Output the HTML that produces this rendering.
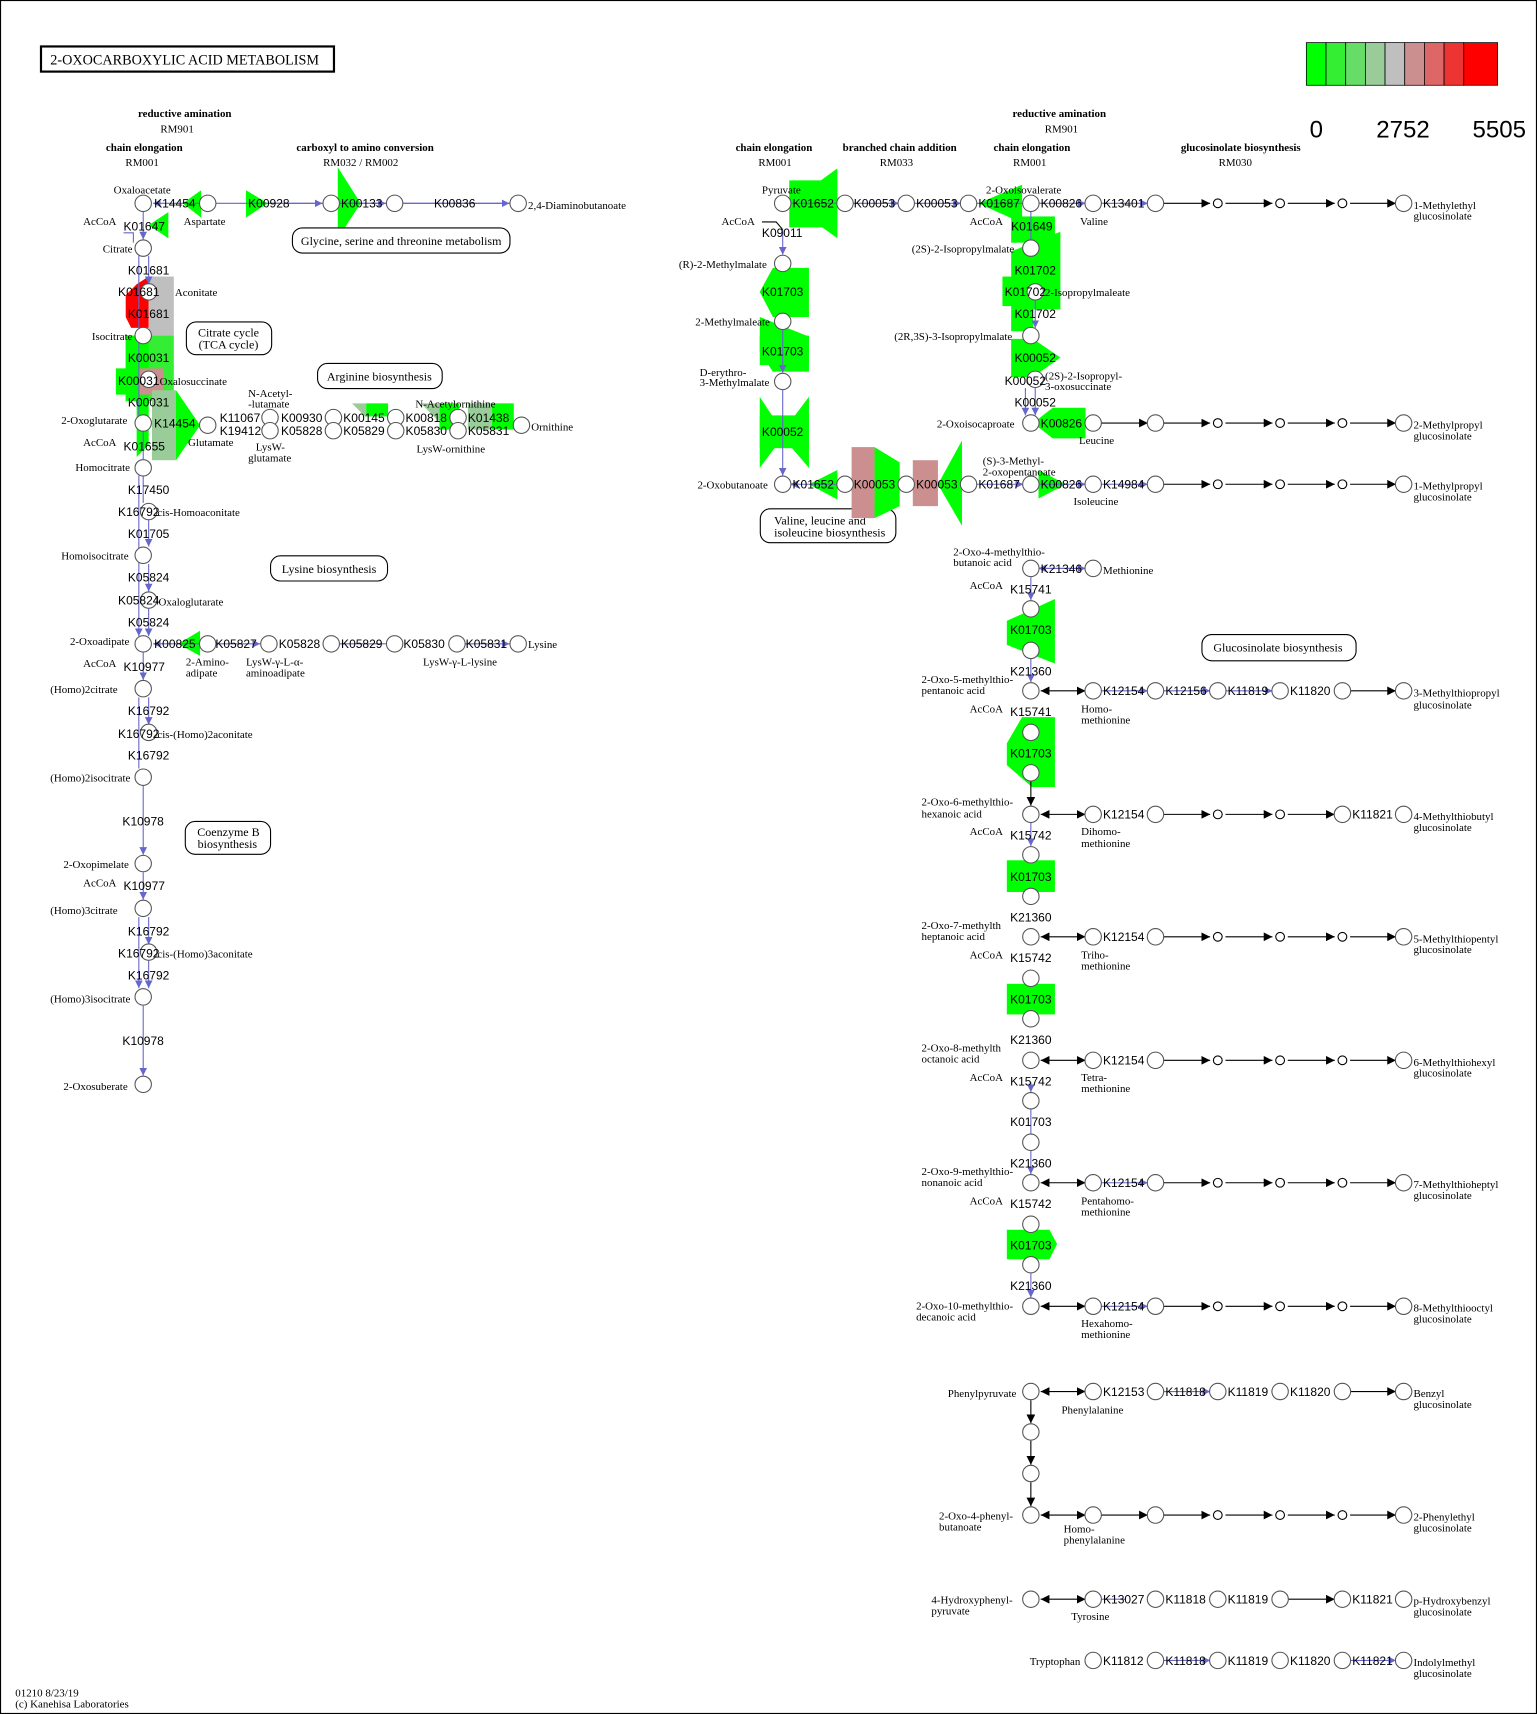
<!DOCTYPE html>
<html><head><meta charset="utf-8"><style>
html,body{margin:0;padding:0;background:#fff}
svg{display:block}
.c{fill:#fff;stroke:#555;stroke-width:1}
.sm{fill:#fff;stroke:#000;stroke-width:1}
.k{font-family:"Liberation Sans",sans-serif;font-size:11px;fill:#000}
.s{font-family:"Liberation Serif",serif;font-size:10px;fill:#000}
.b{font-family:"Liberation Serif",serif;font-size:10px;font-weight:bold;fill:#000}
.bl{stroke:#6666cc;stroke-width:1;fill:none}
.bk{stroke:#000;stroke-width:1;fill:none}
.g{fill:#00ff00}
.lg{fill:#99cc99}
.pk{fill:#cc8f8f}
.box{fill:#fff;stroke:#000;stroke-width:1}
</style></head><body>
<svg width="1537" height="1714" viewBox="0 0 1406 1568" preserveAspectRatio="none" xmlns="http://www.w3.org/2000/svg">
<defs>
<marker id="ab" viewBox="0 0 10 10" refX="10" refY="5" markerWidth="7" markerHeight="7" orient="auto"><path d="M0,0L10,5L0,10z" fill="#6666cc"/></marker>
<marker id="ak" viewBox="0 0 10 10" refX="10" refY="5" markerWidth="8" markerHeight="8" orient="auto"><path d="M0,0L10,5L0,10z" fill="#000"/></marker>
<marker id="aks" viewBox="0 0 10 10" refX="0" refY="5" markerWidth="8" markerHeight="8" orient="auto"><path d="M10,0L0,5L10,10z" fill="#000"/></marker>
</defs>
<rect x="0.5" y="0.5" width="1405" height="1567" fill="#fff" stroke="#000"/>
<rect x="37.5" y="42.5" width="268" height="23" fill="#fff" stroke="#000" stroke-width="2"/>
<text x="46" y="59" class="s" style="font-size:13px">2-OXOCARBOXYLIC ACID METABOLISM</text>
<g stroke="#000" stroke-width="0.7">
<rect x="1195" y="39" width="18" height="39" fill="#00ff00"/>
<rect x="1213" y="39" width="18" height="39" fill="#33ee33"/>
<rect x="1231" y="39" width="18" height="39" fill="#66dd66"/>
<rect x="1249" y="39" width="18" height="39" fill="#99cc99"/>
<rect x="1267" y="39" width="18" height="39" fill="#bfbfbf"/>
<rect x="1285" y="39" width="18" height="39" fill="#cc8f8f"/>
<rect x="1303" y="39" width="18" height="39" fill="#dd6666"/>
<rect x="1321" y="39" width="18" height="39" fill="#ee3333"/>
<rect x="1339" y="39" width="31" height="39" fill="#ff0000"/>
</g>
<text x="1198" y="126" class="k" style="font-size:22px">0</text>
<text x="1259" y="126" class="k" style="font-size:22px">2752</text>
<text x="1347" y="126" class="k" style="font-size:22px">5505</text>

<text x="169" y="107" class="b" text-anchor="middle">reductive amination</text>
<text x="162" y="121" class="s" text-anchor="middle">RM901</text>
<text x="132" y="138" class="b" text-anchor="middle">chain elongation</text>
<text x="130" y="152" class="s" text-anchor="middle">RM001</text>
<text x="334" y="138" class="b" text-anchor="middle">carboxyl to amino conversion</text>
<text x="330" y="152" class="s" text-anchor="middle">RM032 / RM002</text>
<text x="969" y="107" class="b" text-anchor="middle">reductive amination</text>
<text x="971" y="121" class="s" text-anchor="middle">RM901</text>
<text x="708" y="138" class="b" text-anchor="middle">chain elongation</text>
<text x="709" y="152" class="s" text-anchor="middle">RM001</text>
<text x="823" y="138" class="b" text-anchor="middle">branched chain addition</text>
<text x="820" y="152" class="s" text-anchor="middle">RM033</text>
<text x="944" y="138" class="b" text-anchor="middle">chain elongation</text>
<text x="942" y="152" class="s" text-anchor="middle">RM001</text>
<text x="1135" y="138" class="b" text-anchor="middle">glucosinolate biosynthesis</text>
<text x="1130" y="152" class="s" text-anchor="middle">RM030</text>

<polygon class="g" points="167,186 184,174 184,199"/>
<polygon class="g" points="136,206 154,194 154,218"/>
<polygon class="g" points="225,174 245,186 225,199"/>
<polygon class="g" points="309,153 330,186 309,218"/>
<polygon fill="#ff0000" points="136,253 136,300 120,300 115,290 115,270 125,260"/>
<rect x="136" y="253" width="23" height="54" fill="#bfbfbf"/>
<rect x="115" y="307" width="44" height="60" fill="#33ee33"/>
<rect x="115" y="307" width="21" height="60" class="g"/>
<rect x="106" y="337" width="44" height="24" class="g"/>
<rect x="127" y="337" width="23" height="24" class="pk"/>
<polygon class="g" points="125,367 136,367 136,407 125,418"/>
<rect x="139" y="357" width="22" height="64" class="lg"/>
<polygon class="g" points="161,357 183,389 161,421"/>
<polygon fill="#99cc99" points="322,369 335,369 335,382"/>
<rect x="335" y="369" width="20" height="12" class="g"/>
<polygon fill="#99cc99" points="385,369 402,369 402,386"/>
<rect x="402" y="369" width="18" height="24" class="g"/>
<rect x="428" y="369" width="22" height="24" class="lg"/>
<rect x="450" y="369" width="20" height="24" class="g"/>
<polygon class="g" points="163,589 183,577 183,600"/>

<g class="bl">
<line x1="466" y1="186" x2="197" y2="186"/>
<line x1="183" y1="186" x2="140" y2="186" marker-end="url(#ab)"/>
<line x1="245" y1="186" x2="295" y2="186" marker-end="url(#ab)"/>
<line x1="310" y1="186" x2="353" y2="186" marker-end="url(#ab)"/>
<line x1="368" y1="186" x2="466" y2="186" marker-end="url(#ab)"/>
<line x1="131" y1="193" x2="131" y2="219" marker-end="url(#ab)"/>
<line x1="127" y1="234" x2="127" y2="380"/>
<line x1="136" y1="234" x2="136" y2="260" marker-end="url(#ab)"/>
<line x1="131" y1="394" x2="131" y2="420"/>
<line x1="127" y1="435" x2="127" y2="582" marker-end="url(#ab)"/>
<line x1="136" y1="476" x2="136" y2="500" marker-end="url(#ab)"/>
<line x1="136" y1="516" x2="136" y2="541" marker-end="url(#ab)"/>
<line x1="136" y1="557" x2="136" y2="582" marker-end="url(#ab)"/>
<line x1="131" y1="435" x2="131" y2="460"/>
<line x1="131" y1="597" x2="131" y2="622" marker-end="url(#ab)"/>
<line x1="127" y1="638" x2="127" y2="703"/>
<line x1="136" y1="638" x2="136" y2="663" marker-end="url(#ab)"/>
<line x1="131" y1="719" x2="131" y2="782" marker-end="url(#ab)"/>
<line x1="131" y1="798" x2="131" y2="823" marker-end="url(#ab)"/>
<line x1="127" y1="839" x2="127" y2="904" marker-end="url(#ab)"/>
<line x1="136" y1="839" x2="136" y2="864" marker-end="url(#ab)"/>
<line x1="136" y1="879" x2="136" y2="904" marker-end="url(#ab)"/>
<line x1="131" y1="920" x2="131" y2="984" marker-end="url(#ab)"/>
<line x1="183" y1="589" x2="140" y2="589" marker-end="url(#ab)"/>
<line x1="197" y1="589" x2="238" y2="589" marker-end="url(#ab)"/>
<line x1="310" y1="589" x2="353" y2="589"/>
<line x1="425" y1="589" x2="466" y2="589" marker-end="url(#ab)"/>
</g>
<path d="M113,213 L122,213 L122,222" class="bl"/>

<g class="c">
<circle cx="131" cy="186" r="7.5"/><circle cx="190" cy="186" r="7.5"/><circle cx="303" cy="186" r="7.5"/><circle cx="361" cy="186" r="7.5"/><circle cx="474" cy="186" r="7.5"/>
<circle cx="131" cy="227" r="7.5"/><circle cx="136" cy="267" r="7.5"/><circle cx="131" cy="307" r="7.5"/><circle cx="136" cy="347" r="7.5"/>
<circle cx="131" cy="387" r="7.5"/><circle cx="190" cy="389" r="7.5"/><circle cx="131" cy="428" r="7.5"/><circle cx="136" cy="468" r="7.5"/>
<circle cx="131" cy="508" r="7.5"/><circle cx="136" cy="549" r="7.5"/><circle cx="131" cy="589" r="7.5"/><circle cx="131" cy="630" r="7.5"/>
<circle cx="136" cy="670" r="7.5"/><circle cx="131" cy="711" r="7.5"/><circle cx="131" cy="790" r="7.5"/><circle cx="131" cy="831" r="7.5"/>
<circle cx="136" cy="871" r="7.5"/><circle cx="131" cy="912" r="7.5"/><circle cx="131" cy="992" r="7.5"/>
<circle cx="190" cy="589" r="7.5"/><circle cx="246" cy="589" r="7.5"/><circle cx="303" cy="589" r="7.5"/><circle cx="361" cy="589" r="7.5"/><circle cx="418" cy="589" r="7.5"/><circle cx="474" cy="589" r="7.5"/>
<circle cx="247" cy="382" r="7.5"/><circle cx="247" cy="394" r="7.5"/><circle cx="305" cy="382" r="7.5"/><circle cx="305" cy="394" r="7.5"/>
<circle cx="362" cy="382" r="7.5"/><circle cx="362" cy="394" r="7.5"/><circle cx="419" cy="382" r="7.5"/><circle cx="419" cy="394" r="7.5"/><circle cx="477" cy="389" r="7.5"/>
</g>

<text x="104" y="177" class="s">Oxaloacetate</text>
<text x="141" y="190" class="k">K14454</text>
<text x="76" y="206" class="s">AcCoA</text>
<text x="113" y="211" class="k">K01647</text>
<text x="168" y="206" class="s">Aspartate</text>
<text x="227" y="190" class="k">K00928</text>
<text x="312" y="190" class="k">K00133</text>
<text x="397" y="190" class="k">K00836</text>
<text x="483" y="191" class="s">2,4-Diaminobutanoate</text>
<text x="94" y="231" class="s">Citrate</text>
<text x="117" y="251" class="k">K01681</text>
<text x="108" y="271" class="k">K01681</text>
<text x="160" y="271" class="s">Aconitate</text>
<text x="117" y="291" class="k">K01681</text>
<text x="84" y="311" class="s">Isocitrate</text>
<text x="117" y="331" class="k">K00031</text>
<text x="108" y="352" class="k">K00031</text>
<text x="146" y="352" class="s">Oxalosuccinate</text>
<text x="117" y="372" class="k">K00031</text>
<text x="56" y="388" class="s">2-Oxoglutarate</text>
<text x="141" y="391" class="k">K14454</text>
<text x="172" y="408" class="s">Glutamate</text>
<text x="76" y="408" class="s">AcCoA</text>
<text x="113" y="412" class="k">K01655</text>
<text x="69" y="431" class="s">Homocitrate</text>
<text x="117" y="452" class="k">K17450</text>
<text x="108" y="472" class="k">K16792</text>
<text x="144" y="472" class="s">cis-Homoaconitate</text>
<text x="117" y="492" class="k">K01705</text>
<text x="56" y="512" class="s">Homoisocitrate</text>
<text x="117" y="532" class="k">K05824</text>
<text x="108" y="553" class="k">K05824</text>
<text x="145" y="554" class="s">Oxaloglutarate</text>
<text x="117" y="573" class="k">K05824</text>
<text x="64" y="590" class="s">2-Oxoadipate</text>
<text x="141" y="593" class="k">K00825</text>
<text x="197" y="593" class="k">K05827</text>
<text x="255" y="593" class="k">K05828</text>
<text x="312" y="593" class="k">K05829</text>
<text x="369" y="593" class="k">K05830</text>
<text x="426" y="593" class="k">K05831</text>
<text x="483" y="593" class="s">Lysine</text>
<text x="170" y="609" class="s">2-Amino-</text>
<text x="170" y="619" class="s">adipate</text>
<text x="225" y="609" class="s">LysW-γ-L-α-</text>
<text x="225" y="619" class="s">aminoadipate</text>
<text x="387" y="609" class="s">LysW-γ-L-lysine</text>
<text x="76" y="610" class="s">AcCoA</text>
<text x="113" y="614" class="k">K10977</text>
<text x="46" y="634" class="s">(Homo)2citrate</text>
<text x="117" y="654" class="k">K16792</text>
<text x="108" y="675" class="k">K16792</text>
<text x="144" y="675" class="s">cis-(Homo)2aconitate</text>
<text x="117" y="695" class="k">K16792</text>
<text x="46" y="715" class="s">(Homo)2isocitrate</text>
<text x="112" y="755" class="k">K10978</text>
<text x="58" y="794" class="s">2-Oxopimelate</text>
<text x="76" y="811" class="s">AcCoA</text>
<text x="113" y="814" class="k">K10977</text>
<text x="46" y="836" class="s">(Homo)3citrate</text>
<text x="117" y="856" class="k">K16792</text>
<text x="108" y="876" class="k">K16792</text>
<text x="144" y="876" class="s">cis-(Homo)3aconitate</text>
<text x="117" y="896" class="k">K16792</text>
<text x="46" y="917" class="s">(Homo)3isocitrate</text>
<text x="112" y="956" class="k">K10978</text>
<text x="58" y="997" class="s">2-Oxosuberate</text>
<text x="227" y="363" class="s">N-Acetyl-</text>
<text x="227" y="373" class="s">-lutamate</text>
<text x="201" y="386" class="k">K11067</text>
<text x="201" y="398" class="k">K19412</text>
<text x="257" y="386" class="k">K00930</text>
<text x="257" y="398" class="k">K05828</text>
<text x="314" y="386" class="k">K00145</text>
<text x="314" y="398" class="k">K05829</text>
<text x="371" y="386" class="k">K00818</text>
<text x="371" y="398" class="k">K05830</text>
<text x="428" y="386" class="k">K01438</text>
<text x="428" y="398" class="k">K05831</text>
<text x="380" y="373" class="s">N-Acetylornithine</text>
<text x="486" y="394" class="s">Ornithine</text>
<text x="234" y="412" class="s">LysW-</text>
<text x="227" y="422" class="s">glutamate</text>
<text x="381" y="414" class="s">LysW-ornithine</text>

<rect x="267.5" y="208.5" width="199" height="23" rx="9" class="box"/>
<text x="367" y="224" class="s" text-anchor="middle" style="font-size:11px">Glycine, serine and threonine metabolism</text>
<rect x="170.5" y="294.5" width="78" height="30" rx="9" class="box"/>
<text x="209" y="308" class="s" text-anchor="middle" style="font-size:11px">Citrate cycle</text>
<text x="209" y="319" class="s" text-anchor="middle" style="font-size:11px">(TCA cycle)</text>
<rect x="290.5" y="332.5" width="114" height="23" rx="9" class="box"/>
<text x="347" y="348" class="s" text-anchor="middle" style="font-size:11px">Arginine biosynthesis</text>
<rect x="247.5" y="508.5" width="107" height="23" rx="9" class="box"/>
<text x="301" y="524" class="s" text-anchor="middle" style="font-size:11px">Lysine biosynthesis</text>
<rect x="169.5" y="751.5" width="78" height="30" rx="9" class="box"/>
<text x="209" y="765" class="s" text-anchor="middle" style="font-size:11px">Coenzyme B</text>
<text x="208" y="776" class="s" text-anchor="middle" style="font-size:11px">biosynthesis</text>
<rect x="695.5" y="465.5" width="124" height="31" rx="9" class="box"/>
<text x="750" y="480" class="s" text-anchor="middle" style="font-size:11px">Valine, leucine and</text>
<text x="759" y="491" class="s" text-anchor="middle" style="font-size:11px">isoleucine biosynthesis</text>
<rect x="1099.5" y="580.5" width="141" height="24" rx="9" class="box"/>
<text x="1169" y="596" class="s" text-anchor="middle" style="font-size:11px">Glucosinolate biosynthesis</text>

<polygon class="g" points="722,186 766,154 766,218"/>
<rect x="722" y="165" width="44" height="43" class="g"/>
<polygon class="g" points="695,267 707,245 740,245 740,290 707,290"/>
<polygon class="g" points="695,290 740,308 740,340 707,340 695,322"/>
<rect x="695" y="307" width="45" height="27" class="g"/>
<polygon class="g" points="695,363 716,395 740,363 740,428 716,400 695,428"/>
<rect x="695" y="380" width="45" height="30" class="g"/>
<polygon class="g" points="740,443 766,430 766,457"/>
<rect x="779" y="409" width="21" height="65" class="pk"/>
<polygon class="g" points="800,409 823,423 823,463 800,474"/>
<rect x="835" y="421" width="23" height="42" class="pk"/>
<polygon class="g" points="858,443 880,403 880,481"/>
<polygon class="g" points="895,186 935,169 935,204"/>
<rect x="925" y="198" width="40" height="24" class="g"/>
<polygon class="g" points="925,230 970,212 970,283 925,283"/>
<rect x="917" y="253" width="40" height="27" class="g"/>
<rect x="925" y="283" width="20" height="20" class="g"/>
<polygon class="g" points="925,310 945,310 970,327 945,345 925,345"/>
<polygon class="g" points="945,387 963,373 993,373 993,401 963,401"/>
<polygon class="g" points="950,430 975,443 950,456"/>
<polygon class="g" points="921,568 965,548 965,607 921,590"/>
<polygon class="g" points="921,680 935,656 965,656 965,720 944,720 921,700"/>
<rect x="921" y="787" width="44" height="29" class="g"/>
<rect x="921" y="900" width="44" height="28" class="g"/>
<polygon class="g" points="921,1125 960,1125 967,1138 960,1152 921,1152"/>

<g class="bl">
<line x1="723" y1="186" x2="766" y2="186"/>
<line x1="780" y1="186" x2="822" y2="186" marker-end="url(#ab)"/>
<line x1="836" y1="186" x2="879" y2="186" marker-end="url(#ab)"/>
<line x1="893" y1="186" x2="936" y2="186"/>
<line x1="950" y1="186" x2="993" y2="186" marker-end="url(#ab)"/>
<line x1="1007" y1="186" x2="1050" y2="186" marker-end="url(#ab)"/>
<line x1="716" y1="210" x2="716" y2="233" marker-end="url(#ab)"/>
<line x1="716" y1="301" x2="716" y2="341" marker-end="url(#ab)"/>
<line x1="716" y1="357" x2="716" y2="435" marker-end="url(#ab)"/>
<line x1="766" y1="443" x2="723" y2="443" marker-end="url(#ab)"/>
<line x1="893" y1="443" x2="936" y2="443" marker-end="url(#ab)"/>
<line x1="950" y1="443" x2="993" y2="443" marker-end="url(#ab)"/>
<line x1="1007" y1="443" x2="1050" y2="443" marker-end="url(#ab)"/>
<line x1="943" y1="193" x2="943" y2="219"/>
<line x1="947" y1="274" x2="947" y2="300" marker-end="url(#ab)"/>
<line x1="938" y1="355" x2="938" y2="380" marker-end="url(#ab)"/>
<line x1="947" y1="355" x2="947" y2="380" marker-end="url(#ab)"/>
<line x1="993" y1="520" x2="950" y2="520" marker-end="url(#ab)"/>
<line x1="950" y1="520" x2="993" y2="520" marker-end="url(#ab)"/>
<line x1="943" y1="527" x2="943" y2="549" marker-end="url(#ab)"/>
<line x1="943" y1="602" x2="943" y2="624" marker-end="url(#ab)"/>
<line x1="943" y1="752" x2="943" y2="774" marker-end="url(#ab)"/>
<line x1="943" y1="990" x2="943" y2="999" marker-end="url(#ab)"/>
<line x1="943" y1="1015" x2="943" y2="1037"/>
<line x1="943" y1="1052" x2="943" y2="1074" marker-end="url(#ab)"/>
<line x1="943" y1="1165" x2="943" y2="1187" marker-end="url(#ab)"/>
<line x1="1007" y1="632" x2="1050" y2="632" marker-end="url(#ab)"/>
<line x1="1064" y1="632" x2="1107" y2="632" marker-end="url(#ab)"/>
<line x1="1121" y1="632" x2="1164" y2="632" marker-end="url(#ab)"/>
<line x1="1007" y1="1082" x2="1050" y2="1082" marker-end="url(#ab)"/>
<line x1="1007" y1="1195" x2="1050" y2="1195" marker-end="url(#ab)"/>
<line x1="1064" y1="1273" x2="1107" y2="1273" marker-end="url(#ab)"/>
<line x1="1007" y1="1463" x2="1030" y2="1463"/>
<line x1="1064" y1="1519" x2="1107" y2="1519" marker-end="url(#ab)"/>
<line x1="1235" y1="1519" x2="1277" y2="1519" marker-end="url(#ab)"/>
</g>
<path d="M697,203 L710,203 L716,210" class="bk"/>

<g class="bk">
<line x1="1064" y1="186" x2="1107" y2="186" marker-end="url(#ak)"/>
<line x1="1121" y1="186" x2="1164" y2="186" marker-end="url(#ak)"/>
<line x1="1178" y1="186" x2="1221" y2="186" marker-end="url(#ak)"/>
<line x1="1235" y1="186" x2="1277" y2="186" marker-end="url(#ak)"/>
<line x1="1007" y1="387" x2="1050" y2="387" marker-end="url(#ak)"/>
<line x1="1064" y1="387" x2="1107" y2="387" marker-end="url(#ak)"/>
<line x1="1121" y1="387" x2="1164" y2="387" marker-end="url(#ak)"/>
<line x1="1178" y1="387" x2="1221" y2="387" marker-end="url(#ak)"/>
<line x1="1235" y1="387" x2="1277" y2="387" marker-end="url(#ak)"/>
<line x1="1064" y1="443" x2="1107" y2="443" marker-end="url(#ak)"/>
<line x1="1121" y1="443" x2="1164" y2="443" marker-end="url(#ak)"/>
<line x1="1178" y1="443" x2="1221" y2="443" marker-end="url(#ak)"/>
<line x1="1235" y1="443" x2="1277" y2="443" marker-end="url(#ak)"/>
<line x1="1235" y1="632" x2="1277" y2="632" marker-end="url(#ak)"/>
<line x1="943" y1="715" x2="943" y2="737" marker-end="url(#ak)"/>
<line x1="1064" y1="745" x2="1107" y2="745" marker-end="url(#ak)"/>
<line x1="1121" y1="745" x2="1164" y2="745" marker-end="url(#ak)"/>
<line x1="1178" y1="745" x2="1221" y2="745" marker-end="url(#ak)"/>
<line x1="1064" y1="857" x2="1107" y2="857" marker-end="url(#ak)"/>
<line x1="1121" y1="857" x2="1164" y2="857" marker-end="url(#ak)"/>
<line x1="1178" y1="857" x2="1221" y2="857" marker-end="url(#ak)"/>
<line x1="1235" y1="857" x2="1277" y2="857" marker-end="url(#ak)"/>
<line x1="1064" y1="970" x2="1107" y2="970" marker-end="url(#ak)"/>
<line x1="1121" y1="970" x2="1164" y2="970" marker-end="url(#ak)"/>
<line x1="1178" y1="970" x2="1221" y2="970" marker-end="url(#ak)"/>
<line x1="1235" y1="970" x2="1277" y2="970" marker-end="url(#ak)"/>
<line x1="1064" y1="1082" x2="1107" y2="1082" marker-end="url(#ak)"/>
<line x1="1121" y1="1082" x2="1164" y2="1082" marker-end="url(#ak)"/>
<line x1="1178" y1="1082" x2="1221" y2="1082" marker-end="url(#ak)"/>
<line x1="1235" y1="1082" x2="1277" y2="1082" marker-end="url(#ak)"/>
<line x1="1064" y1="1195" x2="1107" y2="1195" marker-end="url(#ak)"/>
<line x1="1121" y1="1195" x2="1164" y2="1195" marker-end="url(#ak)"/>
<line x1="1178" y1="1195" x2="1221" y2="1195" marker-end="url(#ak)"/>
<line x1="1235" y1="1195" x2="1277" y2="1195" marker-end="url(#ak)"/>
<line x1="1235" y1="1273" x2="1277" y2="1273" marker-end="url(#ak)"/>
<line x1="943" y1="1281" x2="943" y2="1302" marker-end="url(#ak)"/>
<line x1="943" y1="1318" x2="943" y2="1340" marker-end="url(#ak)"/>
<line x1="943" y1="1356" x2="943" y2="1378" marker-end="url(#ak)"/>
<line x1="1007" y1="1386" x2="1050" y2="1386" marker-end="url(#ak)"/>
<line x1="1064" y1="1386" x2="1107" y2="1386" marker-end="url(#ak)"/>
<line x1="1121" y1="1386" x2="1164" y2="1386" marker-end="url(#ak)"/>
<line x1="1178" y1="1386" x2="1221" y2="1386" marker-end="url(#ak)"/>
<line x1="1235" y1="1386" x2="1277" y2="1386" marker-end="url(#ak)"/>
<line x1="1178" y1="1463" x2="1221" y2="1463" marker-end="url(#ak)"/>
<line x1="952" y1="632" x2="993" y2="632" marker-start="url(#aks)" marker-end="url(#ak)"/>
<line x1="952" y1="745" x2="993" y2="745" marker-start="url(#aks)" marker-end="url(#ak)"/>
<line x1="952" y1="857" x2="993" y2="857" marker-start="url(#aks)" marker-end="url(#ak)"/>
<line x1="952" y1="970" x2="993" y2="970" marker-start="url(#aks)" marker-end="url(#ak)"/>
<line x1="952" y1="1082" x2="993" y2="1082" marker-start="url(#aks)" marker-end="url(#ak)"/>
<line x1="952" y1="1195" x2="993" y2="1195" marker-start="url(#aks)" marker-end="url(#ak)"/>
<line x1="952" y1="1273" x2="993" y2="1273" marker-start="url(#aks)" marker-end="url(#ak)"/>
<line x1="952" y1="1386" x2="993" y2="1386" marker-start="url(#aks)" marker-end="url(#ak)"/>
<line x1="952" y1="1463" x2="993" y2="1463" marker-start="url(#aks)" marker-end="url(#ak)"/>
</g>

<g class="c">
<circle cx="716" cy="186" r="7.5"/><circle cx="773" cy="186" r="7.5"/><circle cx="829" cy="186" r="7.5"/><circle cx="886" cy="186" r="7.5"/><circle cx="943" cy="186" r="7.5"/><circle cx="1000" cy="186" r="7.5"/><circle cx="1057" cy="186" r="7.5"/><circle cx="1284" cy="186" r="7.5"/>
<circle cx="716" cy="241" r="7.5"/><circle cx="716" cy="294" r="7.5"/><circle cx="716" cy="349" r="7.5"/>
<circle cx="716" cy="443" r="7.5"/><circle cx="773" cy="443" r="7.5"/><circle cx="829" cy="443" r="7.5"/><circle cx="886" cy="443" r="7.5"/><circle cx="943" cy="443" r="7.5"/><circle cx="1000" cy="443" r="7.5"/><circle cx="1057" cy="443" r="7.5"/><circle cx="1284" cy="443" r="7.5"/>
<circle cx="943" cy="227" r="7.5"/><circle cx="947" cy="267" r="7.5"/><circle cx="943" cy="307" r="7.5"/><circle cx="947" cy="347" r="7.5"/>
<circle cx="943" cy="387" r="7.5"/><circle cx="1000" cy="387" r="7.5"/><circle cx="1057" cy="387" r="7.5"/><circle cx="1284" cy="387" r="7.5"/>
<circle cx="943" cy="520" r="7.5"/><circle cx="1000" cy="520" r="7.5"/><circle cx="943" cy="557" r="7.5"/><circle cx="943" cy="595" r="7.5"/>
<circle cx="943" cy="632" r="7.5"/><circle cx="1000" cy="632" r="7.5"/><circle cx="1057" cy="632" r="7.5"/><circle cx="1114" cy="632" r="7.5"/><circle cx="1171" cy="632" r="7.5"/><circle cx="1228" cy="632" r="7.5"/><circle cx="1284" cy="632" r="7.5"/>
<circle cx="943" cy="670" r="7.5"/><circle cx="943" cy="707" r="7.5"/>
<circle cx="943" cy="745" r="7.5"/><circle cx="1000" cy="745" r="7.5"/><circle cx="1057" cy="745" r="7.5"/><circle cx="1228" cy="745" r="7.5"/><circle cx="1284" cy="745" r="7.5"/>
<circle cx="943" cy="782" r="7.5"/><circle cx="943" cy="820" r="7.5"/>
<circle cx="943" cy="857" r="7.5"/><circle cx="1000" cy="857" r="7.5"/><circle cx="1057" cy="857" r="7.5"/><circle cx="1284" cy="857" r="7.5"/>
<circle cx="943" cy="895" r="7.5"/><circle cx="943" cy="932" r="7.5"/>
<circle cx="943" cy="970" r="7.5"/><circle cx="1000" cy="970" r="7.5"/><circle cx="1057" cy="970" r="7.5"/><circle cx="1284" cy="970" r="7.5"/>
<circle cx="943" cy="1007" r="7.5"/><circle cx="943" cy="1045" r="7.5"/>
<circle cx="943" cy="1082" r="7.5"/><circle cx="1000" cy="1082" r="7.5"/><circle cx="1057" cy="1082" r="7.5"/><circle cx="1284" cy="1082" r="7.5"/>
<circle cx="943" cy="1120" r="7.5"/><circle cx="943" cy="1157" r="7.5"/>
<circle cx="943" cy="1195" r="7.5"/><circle cx="1000" cy="1195" r="7.5"/><circle cx="1057" cy="1195" r="7.5"/><circle cx="1284" cy="1195" r="7.5"/>
<circle cx="943" cy="1273" r="7.5"/><circle cx="1000" cy="1273" r="7.5"/><circle cx="1057" cy="1273" r="7.5"/><circle cx="1114" cy="1273" r="7.5"/><circle cx="1171" cy="1273" r="7.5"/><circle cx="1228" cy="1273" r="7.5"/><circle cx="1284" cy="1273" r="7.5"/>
<circle cx="943" cy="1310" r="7.5"/><circle cx="943" cy="1348" r="7.5"/>
<circle cx="943" cy="1386" r="7.5"/><circle cx="1000" cy="1386" r="7.5"/><circle cx="1057" cy="1386" r="7.5"/><circle cx="1284" cy="1386" r="7.5"/>
<circle cx="943" cy="1463" r="7.5"/><circle cx="1000" cy="1463" r="7.5"/><circle cx="1057" cy="1463" r="7.5"/><circle cx="1114" cy="1463" r="7.5"/><circle cx="1171" cy="1463" r="7.5"/><circle cx="1228" cy="1463" r="7.5"/><circle cx="1284" cy="1463" r="7.5"/>
<circle cx="1000" cy="1519" r="7.5"/><circle cx="1057" cy="1519" r="7.5"/><circle cx="1114" cy="1519" r="7.5"/><circle cx="1171" cy="1519" r="7.5"/><circle cx="1228" cy="1519" r="7.5"/><circle cx="1284" cy="1519" r="7.5"/>
</g>
<g class="sm">
<circle cx="1114" cy="186" r="4"/><circle cx="1171" cy="186" r="4"/><circle cx="1228" cy="186" r="4"/>
<circle cx="1114" cy="387" r="4"/><circle cx="1171" cy="387" r="4"/><circle cx="1228" cy="387" r="4"/>
<circle cx="1114" cy="443" r="4"/><circle cx="1171" cy="443" r="4"/><circle cx="1228" cy="443" r="4"/>
<circle cx="1114" cy="745" r="4"/><circle cx="1171" cy="745" r="4"/>
<circle cx="1114" cy="857" r="4"/><circle cx="1171" cy="857" r="4"/><circle cx="1228" cy="857" r="4"/>
<circle cx="1114" cy="970" r="4"/><circle cx="1171" cy="970" r="4"/><circle cx="1228" cy="970" r="4"/>
<circle cx="1114" cy="1082" r="4"/><circle cx="1171" cy="1082" r="4"/><circle cx="1228" cy="1082" r="4"/>
<circle cx="1114" cy="1195" r="4"/><circle cx="1171" cy="1195" r="4"/><circle cx="1228" cy="1195" r="4"/>
<circle cx="1114" cy="1386" r="4"/><circle cx="1171" cy="1386" r="4"/><circle cx="1228" cy="1386" r="4"/>
</g>

<text x="697" y="177" class="s">Pyruvate</text>
<text x="725" y="190" class="k">K01652</text>
<text x="781" y="190" class="k">K00053</text>
<text x="838" y="190" class="k">K00053</text>
<text x="895" y="190" class="k">K01687</text>
<text x="952" y="190" class="k">K00826</text>
<text x="1009" y="190" class="k">K13401</text>
<text x="902" y="177" class="s">2-Oxoisovalerate</text>
<text x="988" y="206" class="s">Valine</text>
<text x="1293" y="191" class="s">1-Methylethyl</text>
<text x="1293" y="201" class="s">glucosinolate</text>
<text x="660" y="206" class="s">AcCoA</text>
<text x="697" y="217" class="k">K09011</text>
<text x="621" y="245" class="s">(R)-2-Methylmalate</text>
<text x="697" y="271" class="k">K01703</text>
<text x="636" y="298" class="s">2-Methylmaleate</text>
<text x="697" y="325" class="k">K01703</text>
<text x="640" y="344" class="s">D-erythro-</text>
<text x="640" y="353" class="s">3-Methylmalate</text>
<text x="697" y="399" class="k">K00052</text>
<text x="638" y="447" class="s">2-Oxobutanoate</text>
<text x="725" y="447" class="k">K01652</text>
<text x="781" y="447" class="k">K00053</text>
<text x="838" y="447" class="k">K00053</text>
<text x="895" y="447" class="k">K01687</text>
<text x="952" y="447" class="k">K00826</text>
<text x="1009" y="447" class="k">K14984</text>
<text x="899" y="425" class="s">(S)-3-Methyl-</text>
<text x="899" y="435" class="s">2-oxopentanoate</text>
<text x="982" y="462" class="s">Isoleucine</text>
<text x="1293" y="448" class="s">1-Methylpropyl</text>
<text x="1293" y="458" class="s">glucosinolate</text>
<text x="887" y="206" class="s">AcCoA</text>
<text x="925" y="211" class="k">K01649</text>
<text x="834" y="231" class="s">(2S)-2-Isopropylmalate</text>
<text x="928" y="251" class="k">K01702</text>
<text x="919" y="271" class="k">K01702</text>
<text x="956" y="271" class="s">2-Isopropylmaleate</text>
<text x="928" y="291" class="k">K01702</text>
<text x="818" y="311" class="s">(2R,3S)-3-Isopropylmalate</text>
<text x="928" y="331" class="k">K00052</text>
<text x="919" y="352" class="k">K00052</text>
<text x="956" y="347" class="s">(2S)-2-Isopropyl-</text>
<text x="956" y="357" class="s">3-oxosuccinate</text>
<text x="928" y="372" class="k">K00052</text>
<text x="857" y="391" class="s">2-Oxoisocaproate</text>
<text x="952" y="391" class="k">K00826</text>
<text x="987" y="406" class="s">Leucine</text>
<text x="1293" y="392" class="s">2-Methylpropyl</text>
<text x="1293" y="402" class="s">glucosinolate</text>
<text x="872" y="508" class="s">2-Oxo-4-methylthio-</text>
<text x="872" y="518" class="s">butanoic acid</text>
<text x="952" y="524" class="k">K21346</text>
<text x="1009" y="525" class="s">Methionine</text>
<text x="887" y="539" class="s">AcCoA</text>
<text x="924" y="543" class="k">K15741</text>
<text x="924" y="580" class="k">K01703</text>
<text x="924" y="618" class="k">K21360</text>
<text x="843" y="625" class="s">2-Oxo-5-methylthio-</text>
<text x="843" y="635" class="s">pentanoic acid</text>
<text x="1009" y="636" class="k">K12154</text>
<text x="1066" y="636" class="k">K12156</text>
<text x="1123" y="636" class="k">K11819</text>
<text x="1180" y="636" class="k">K11820</text>
<text x="989" y="652" class="s">Homo-</text>
<text x="989" y="662" class="s">methionine</text>
<text x="1293" y="637" class="s">3-Methylthiopropyl</text>
<text x="1293" y="648" class="s">glucosinolate</text>
<text x="887" y="652" class="s">AcCoA</text>
<text x="924" y="655" class="k">K15741</text>
<text x="924" y="693" class="k">K01703</text>
<text x="843" y="737" class="s">2-Oxo-6-methylthio-</text>
<text x="843" y="748" class="s">hexanoic acid</text>
<text x="1009" y="749" class="k">K12154</text>
<text x="1237" y="749" class="k">K11821</text>
<text x="989" y="764" class="s">Dihomo-</text>
<text x="989" y="775" class="s">methionine</text>
<text x="1293" y="750" class="s">4-Methylthiobutyl</text>
<text x="1293" y="760" class="s">glucosinolate</text>
<text x="887" y="764" class="s">AcCoA</text>
<text x="924" y="768" class="k">K15742</text>
<text x="924" y="806" class="k">K01703</text>
<text x="924" y="843" class="k">K21360</text>
<text x="843" y="850" class="s">2-Oxo-7-methylth</text>
<text x="843" y="860" class="s">heptanoic acid</text>
<text x="1009" y="861" class="k">K12154</text>
<text x="989" y="877" class="s">Triho-</text>
<text x="989" y="887" class="s">methionine</text>
<text x="1293" y="862" class="s">5-Methylthiopentyl</text>
<text x="1293" y="872" class="s">glucosinolate</text>
<text x="887" y="877" class="s">AcCoA</text>
<text x="924" y="880" class="k">K15742</text>
<text x="924" y="918" class="k">K01703</text>
<text x="924" y="955" class="k">K21360</text>
<text x="843" y="962" class="s">2-Oxo-8-methylth</text>
<text x="843" y="972" class="s">octanoic acid</text>
<text x="1009" y="974" class="k">K12154</text>
<text x="989" y="989" class="s">Tetra-</text>
<text x="989" y="999" class="s">methionine</text>
<text x="1293" y="975" class="s">6-Methylthiohexyl</text>
<text x="1293" y="985" class="s">glucosinolate</text>
<text x="887" y="989" class="s">AcCoA</text>
<text x="924" y="993" class="k">K15742</text>
<text x="924" y="1030" class="k">K01703</text>
<text x="924" y="1068" class="k">K21360</text>
<text x="843" y="1075" class="s">2-Oxo-9-methylthio-</text>
<text x="843" y="1085" class="s">nonanoic acid</text>
<text x="1009" y="1086" class="k">K12154</text>
<text x="989" y="1102" class="s">Pentahomo-</text>
<text x="989" y="1112" class="s">methionine</text>
<text x="1293" y="1087" class="s">7-Methylthioheptyl</text>
<text x="1293" y="1097" class="s">glucosinolate</text>
<text x="887" y="1102" class="s">AcCoA</text>
<text x="924" y="1105" class="k">K15742</text>
<text x="924" y="1143" class="k">K01703</text>
<text x="924" y="1180" class="k">K21360</text>
<text x="838" y="1198" class="s">2-Oxo-10-methylthio-</text>
<text x="838" y="1208" class="s">decanoic acid</text>
<text x="1009" y="1199" class="k">K12154</text>
<text x="989" y="1214" class="s">Hexahomo-</text>
<text x="989" y="1224" class="s">methionine</text>
<text x="1293" y="1200" class="s">8-Methylthiooctyl</text>
<text x="1293" y="1210" class="s">glucosinolate</text>
<text x="867" y="1278" class="s">Phenylpyruvate</text>
<text x="1009" y="1277" class="k">K12153</text>
<text x="1066" y="1277" class="k">K11818</text>
<text x="1123" y="1277" class="k">K11819</text>
<text x="1180" y="1277" class="k">K11820</text>
<text x="971" y="1293" class="s">Phenylalanine</text>
<text x="1293" y="1278" class="s">Benzyl</text>
<text x="1293" y="1288" class="s">glucosinolate</text>
<text x="859" y="1390" class="s">2-Oxo-4-phenyl-</text>
<text x="859" y="1400" class="s">butanoate</text>
<text x="973" y="1402" class="s">Homo-</text>
<text x="973" y="1412" class="s">phenylalanine</text>
<text x="1293" y="1391" class="s">2-Phenylethyl</text>
<text x="1293" y="1401" class="s">glucosinolate</text>
<text x="852" y="1467" class="s">4-Hydroxyphenyl-</text>
<text x="852" y="1477" class="s">pyruvate</text>
<text x="1009" y="1467" class="k">K13027</text>
<text x="1066" y="1467" class="k">K11818</text>
<text x="1123" y="1467" class="k">K11819</text>
<text x="1237" y="1467" class="k">K11821</text>
<text x="980" y="1482" class="s">Tyrosine</text>
<text x="1293" y="1468" class="s">p-Hydroxybenzyl</text>
<text x="1293" y="1478" class="s">glucosinolate</text>
<text x="942" y="1523" class="s">Tryptophan</text>
<text x="1009" y="1523" class="k">K11812</text>
<text x="1066" y="1523" class="k">K11818</text>
<text x="1123" y="1523" class="k">K11819</text>
<text x="1180" y="1523" class="k">K11820</text>
<text x="1237" y="1523" class="k">K11821</text>
<text x="1293" y="1524" class="s">Indolylmethyl</text>
<text x="1293" y="1534" class="s">glucosinolate</text>

<text x="14" y="1552" class="s">01210 8/23/19</text>
<text x="14" y="1562" class="s">(c) Kanehisa Laboratories</text>
</svg>
</body></html>
